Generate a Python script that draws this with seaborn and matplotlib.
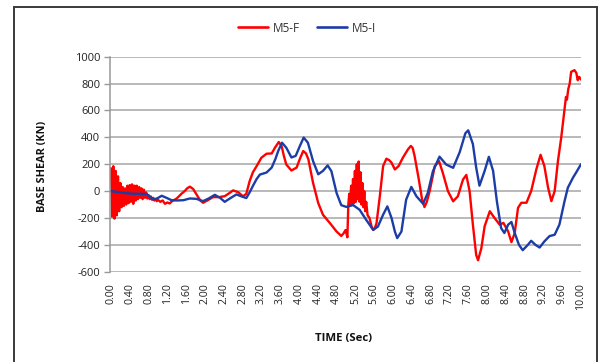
import matplotlib
matplotlib.use("Agg")
import matplotlib.pyplot as plt
from matplotlib.patches import Rectangle
from matplotlib.lines import Line2D
import seaborn as sns
import pandas as pd

# Base shear time history, model M5-F (seconds, kN)
time_f = [
    0.000, 0.025, 0.050, 0.075, 0.100, 0.125, 0.150, 0.175, 0.200, 0.225,
    0.250, 0.275, 0.300, 0.325, 0.350, 0.375, 0.400, 0.425, 0.450, 0.475,
    0.500, 0.525, 0.550, 0.575, 0.600, 0.625, 0.650, 0.675, 0.700, 0.725,
    0.750, 0.775, 0.800, 0.825, 0.850, 0.875, 0.900, 0.925, 0.950, 0.975,
    1.000, 1.05, 1.10, 1.15, 1.20, 1.25, 1.30, 1.40, 1.50, 1.57,
    1.62, 1.68, 1.75, 1.82, 1.90, 1.96, 2.05, 2.17, 2.30, 2.42,
    2.52, 2.60, 2.71, 2.81, 2.88, 2.95, 3.02, 3.10, 3.20, 3.31,
    3.42, 3.49, 3.57, 3.63, 3.68, 3.73, 3.84, 3.95, 4.02, 4.09,
    4.15, 4.20, 4.30, 4.41, 4.51, 4.66, 4.80, 4.90, 4.95, 4.99,
    5.03, 5.05, 5.07, 5.09, 5.11, 5.13, 5.15, 5.17, 5.19, 5.21,
    5.23, 5.25, 5.27, 5.29, 5.31, 5.33, 5.35, 5.37, 5.39, 5.41,
    5.43, 5.46, 5.50, 5.55, 5.58, 5.62, 5.65, 5.72, 5.79, 5.86,
    5.92, 5.97, 6.04, 6.12, 6.21, 6.32, 6.38, 6.42, 6.46, 6.55,
    6.62, 6.67, 6.72, 6.78, 6.89, 6.98, 7.06, 7.17, 7.28, 7.38,
    7.49, 7.56, 7.63, 7.70, 7.77, 7.81, 7.88, 7.95, 8.06, 8.16,
    8.27, 8.35, 8.45, 8.52, 8.59, 8.66, 8.73, 8.84, 8.94, 9.05,
    9.14, 9.22, 9.30, 9.37, 9.44, 9.51, 9.58, 9.65, 9.68, 9.70,
    9.73, 9.76, 9.79, 9.86, 9.90, 9.93, 9.96, 10.00,
]
shear_f = [
    170, -190, 185, -205, 150, -180, 110, -150, 60, -120,
    30, -110, 20, -100, 40, -90, 45, -80, 50, -95,
    40, -70, 40, -60, 30, -50, 20, -60, 10, -50,
    -10, -55, -30, -60, -40, -65, -50, -70, -60, -75,
    -65, -80, -70, -95, -85, -92, -75, -55, -20, 0,
    20, 33, 15, -25, -70, -87, -70, -45, -45, -38,
    -15, 5, -9, -39, -20, 73, 140, 186, 248, 278,
    280, 323, 365, 336, 260, 198, 153, 175, 240, 298,
    280, 236, 61, -89, -176, -239, -301, -334, -314, -290,
    -344, -100, -20, -110, 40, -100, 90, -90, 150, -80,
    200, -60, 220, -80, 140, -100, 60, -120, 0, -150,
    -80, -180, -200, -270, -289, -270, -239, -39, 186, 241,
    230, 211, 161, 186, 248, 311, 336, 320, 261, 86,
    -64, -119, -80, -1, 186, 223, 136, -1, -76, -39,
    86, 120, 0, -250, -475, -515, -425, -262, -150, -200,
    -250, -237, -300, -380, -312, -125, -87, -87, 0, 162,
    270, 187, 25, -75, 0, 225, 400, 612, 700, 680,
    760, 800, 887, 900, 880, 825, 850, 830,
]

# Base shear time history, model M5-I (seconds, kN)
time_i = [
    0.00, 0.10, 0.20, 0.30, 0.47, 0.60, 0.76, 0.84, 0.90, 0.98,
    1.08, 1.18, 1.29, 1.40, 1.54, 1.68, 1.82, 1.96, 2.08, 2.21,
    2.32, 2.42, 2.53, 2.67, 2.78, 2.88, 2.95, 3.03, 3.10, 3.17,
    3.31, 3.42, 3.50, 3.56, 3.64, 3.73, 3.84, 3.93, 4.02, 4.10,
    4.19, 4.30, 4.41, 4.51, 4.61, 4.69, 4.80, 4.90, 5.01, 5.15,
    5.29, 5.43, 5.58, 5.68, 5.79, 5.88, 5.97, 6.04, 6.09, 6.18,
    6.28, 6.39, 6.50, 6.64, 6.74, 6.85, 6.99, 7.13, 7.28, 7.42,
    7.54, 7.60, 7.70, 7.77, 7.84, 7.95, 8.04, 8.13, 8.21, 8.30,
    8.37, 8.45, 8.52, 8.59, 8.68, 8.76, 8.87, 8.94, 9.03, 9.12,
    9.22, 9.33, 9.44, 9.54, 9.65, 9.72, 9.83, 9.90, 10.00,
]
shear_i = [
    0, -5, -10, -15, -20, -20, -22, -45, -62, -55,
    -35, -50, -68, -70, -68, -55, -58, -75, -55, -28,
    -50, -80, -55, -25, -40, -52, -10, 45, 90, 123,
    138, 175, 240, 300, 360, 323, 250, 262, 336, 398,
    360, 223, 125, 150, 191, 148, -14, -105, -118, -104,
    -139, -214, -289, -264, -176, -114, -201, -301, -350, -301,
    -64, 31, -39, -94, -14, 148, 256, 198, 173, 290,
    430, 452, 350, 175, 40, 150, 255, 150, -75, -275,
    -312, -250, -230, -312, -400, -440, -400, -370, -400, -420,
    -375, -335, -325, -250, -75, 25, 100, 140, 200,
]

series_names = ["M5-F", "M5-I"]
series_colors = ["#ff0000", "#1c3da6"]
x_ticks = [round(0.4 * k, 2) for k in range(26)]
y_ticks = [-600, -400, -200, 0, 200, 400, 600, 800, 1000]

df = pd.concat([
    pd.DataFrame({"time": time_f, "shear": shear_f, "model": series_names[0]}),
    pd.DataFrame({"time": time_i, "shear": shear_i, "model": series_names[1]}),
])

sns.set_theme(style="white")
plt.rcParams["font.family"] = ["Open Sans", "DejaVu Sans"]

fig = plt.figure(figsize=(5.99, 3.62), dpi=100)
ax = fig.add_axes([110 / 599, 1 - 271.7 / 362, 471 / 599, 215 / 362])

sns.lineplot(data=df, x="time", y="shear", hue="model", palette=series_colors,
             sort=False, estimator=None, linewidth=1.7, legend=False, ax=ax)

ax.set_xlim(-0.02, 10.0)
ax.set_ylim(-600, 1000)
ax.set_yticks(y_ticks)
ax.set_yticklabels([str(v) for v in y_ticks], fontsize=8, color="#222222")
ax.set_xticks(x_ticks)
ax.set_xticklabels([f"{v:.2f}" for v in x_ticks], rotation=90, fontsize=7.6,
                   color="#222222")
ax.tick_params(axis="y", length=4, width=1, color="#999999", pad=3, left=True)
ax.tick_params(axis="x", length=0, pad=8)
ax.yaxis.grid(True, color="#a6a6a6", linewidth=1.1)
ax.set_axisbelow(True)
for side in ["top", "right", "bottom"]:
    ax.spines[side].set_visible(False)
ax.spines["left"].set_color("#999999")
ax.spines["left"].set_linewidth(1.1)

ax.set_xlabel("")
ax.set_ylabel("")
fig.text(43 / 599, 1 - 166 / 362, "BASE SHEAR (KN)", rotation=90, ha="center",
         va="center", fontsize=7.8, fontweight="bold", color="#111111")
fig.text(344 / 599, 1 - 338 / 362, "TIME (Sec)", ha="center", va="center",
         fontsize=8.2, fontweight="bold", color="#111111")

handles = [Line2D([], [], color=c, linewidth=1.9) for c in series_colors]
fig.legend(handles, series_names, loc="center", ncol=2, frameon=False,
           bbox_to_anchor=(307 / 599, 1 - 28 / 362), fontsize=8.5,
           handlelength=2.6, handletextpad=0.4, columnspacing=1.4,
           labelcolor="#333333")

# outer chart frame
fig.patches.append(Rectangle((14 / 599, -0.1), 583 / 599, 0.1 + 355 / 362,
                             transform=fig.transFigure, fill=False,
                             edgecolor="#3a3a3a", linewidth=1.4, clip_on=False))

fig.savefig("out.png", dpi=100)
